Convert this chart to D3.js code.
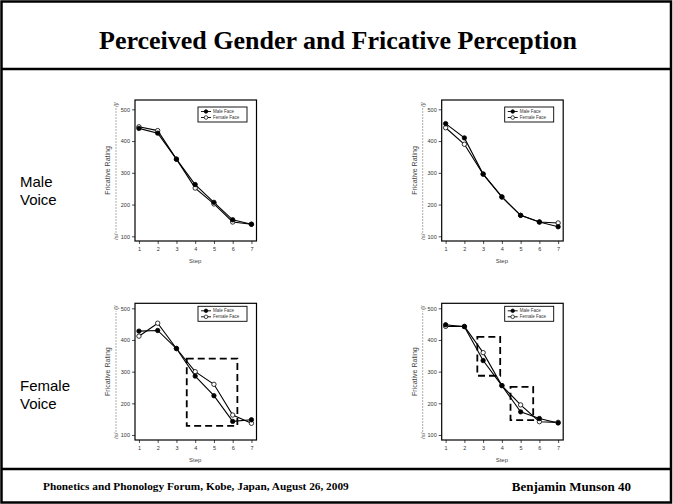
<!DOCTYPE html>
<html>
<head>
<meta charset="utf-8">
<script src="https://cdn.jsdelivr.net/npm/d3@7"></script>
<style>
  body { margin: 0; background: #fff; }
  svg { display: block; }
  .tick text { font-family: Arial, "Liberation Sans", sans-serif; }
</style>
</head>
<body>
<script>
// chart data
const steps = [1, 2, 3, 4, 5, 6, 7];
const ratingTicks = [100, 200, 300, 400, 500];
const seriesNames = ["Male Face", "Female Face"];
const rowLabels = [["Male", "Voice"], ["Female", "Voice"]];

const mvLeftMale    = [440, 425, 343, 263, 207, 152, 138];
const mvLeftFemale  = [445, 433, 343, 252, 202, 145, 138];
const mvRightMale   = [455, 410, 296, 224, 166, 145, 130];
const mvRightFemale = [442, 390, 296, 224, 166, 145, 142];
const fvLeftMale    = [428, 430, 373, 286, 224, 143, 148];
const fvLeftFemale  = [412, 453, 373, 300, 260, 163, 137];
const fvRightMale   = [448, 442, 335, 256, 173, 152, 138];
const fvRightFemale = [443, 443, 360, 256, 195, 142, 140];

// dashed highlight boxes: [step from, step to, rating low, rating high]
const fvLeftBoxes  = [[3.55, 6.25, 129, 341]];
const fvRightBoxes = [[2.69, 3.91, 287, 410], [4.46, 5.67, 147, 252]];

const W = 673, H = 504;
const serif = "'Liberation Serif', 'Times New Roman', serif";
const sans = "Arial, 'Liberation Sans', sans-serif";

const svg = d3.select("body").append("svg")
    .attr("width", W)
    .attr("height", H);

// slide frame
svg.append("rect")
    .attr("x", 1.5).attr("y", 1.5)
    .attr("width", W - 3.5).attr("height", H - 3)
    .attr("fill", "none").attr("stroke", "#000").attr("stroke-width", 2.5);
svg.append("line").attr("x1", 1).attr("x2", W - 1).attr("y1", 69).attr("y2", 69)
    .attr("stroke", "#000").attr("stroke-width", 2.5);
svg.append("line").attr("x1", 1).attr("x2", W - 1).attr("y1", 469).attr("y2", 469)
    .attr("stroke", "#000").attr("stroke-width", 2.5);

svg.append("text")
    .attr("x", 338).attr("y", 49)
    .attr("text-anchor", "middle")
    .style("font-family", serif).style("font-weight", "bold").style("font-size", "26px")
    .text("Perceived Gender and Fricative Perception");

svg.append("text")
    .attr("x", 43).attr("y", 490)
    .style("font-family", serif).style("font-weight", "bold").style("font-size", "11.3px")
    .text("Phonetics and Phonology Forum, Kobe, Japan, August 26, 2009");
svg.append("text")
    .attr("x", 631).attr("y", 491)
    .attr("text-anchor", "end")
    .style("font-family", serif).style("font-weight", "bold").style("font-size", "13px")
    .text("Benjamin Munson 40");

// row labels
rowLabels.forEach(function(lines, i) {
    var base = i == 0 ? 187 : 391;
    lines.forEach(function(t, j) {
        svg.append("text")
            .attr("x", 20).attr("y", base + j * 18)
            .style("font-family", sans).style("font-size", "15px")
            .text(t);
    });
});

const panels = [
    {left: 135, top: 100, bottom: 241, yDom: [85.2, 529.4], male: mvLeftMale, female: mvLeftFemale, boxes: [], legendDy: 7},
    {left: 441.7, top: 100, bottom: 241, yDom: [85.2, 529.4], male: mvRightMale, female: mvRightFemale, boxes: [], legendDy: 7},
    {left: 135, top: 303.3, bottom: 440, yDom: [84.2, 515.8], male: fvLeftMale, female: fvLeftFemale, boxes: fvLeftBoxes, legendDy: 3},
    {left: 441.7, top: 303.3, bottom: 440, yDom: [84.2, 515.8], male: fvRightMale, female: fvRightFemale, boxes: fvRightBoxes, legendDy: 3}
];

panels.forEach(drawPanel);

function drawPanel(p) {
    var right = p.left + 121.5;
    var x = d3.scaleLinear().domain([0.79, 7.27]).range([p.left, right]);
    var y = d3.scaleLinear().domain(p.yDom).range([p.bottom, p.top]);
    var g = svg.append("g");

    var yAxis = d3.axisLeft(y).tickValues(ratingTicks).tickSize(3).tickPadding(2);
    var xAxis = d3.axisBottom(x).tickValues(steps).tickFormat(d3.format("d")).tickSize(3).tickPadding(3);

    var ya = g.append("g").attr("transform", "translate(" + p.left + ",0)").call(yAxis);
    var xa = g.append("g").attr("transform", "translate(0," + p.bottom + ")").call(xAxis);
    [ya, xa].forEach(function(a) {
        a.select(".domain").remove();
        a.selectAll(".tick line").attr("stroke", "#222").attr("stroke-width", 0.8);
        a.selectAll(".tick text").style("font-size", "5.5px").attr("fill", "#333");
    });

    // plot frame
    g.append("rect")
        .attr("x", p.left).attr("y", p.top)
        .attr("width", right - p.left).attr("height", p.bottom - p.top)
        .attr("fill", "none").attr("stroke", "#000").attr("stroke-width", 1.2);

    // axis titles
    var midY = (p.top + p.bottom) / 2;
    g.append("text")
        .attr("transform", "translate(" + (p.left - 25) + "," + midY + ") rotate(-90)")
        .attr("text-anchor", "middle")
        .style("font-family", sans).style("font-size", "7px").attr("fill", "#444")
        .text("Fricative Rating");
    g.append("text")
        .attr("x", (x(1) + x(7)) / 2).attr("y", p.bottom + 22)
        .attr("text-anchor", "middle")
        .style("font-family", sans).style("font-size", "6px").attr("fill", "#444")
        .text("Step");

    // /s/ ---- /ʃ/ scale note
    var ax = p.left - 19;
    g.append("line")
        .attr("x1", ax).attr("x2", ax)
        .attr("y1", p.bottom - 8).attr("y2", p.top + 8)
        .attr("stroke", "#777").attr("stroke-width", 0.6).attr("stroke-dasharray", "2,1");
    g.append("text")
        .attr("transform", "translate(" + (ax + 2) + "," + (p.bottom - 1) + ") rotate(-90)")
        .style("font-family", sans).style("font-size", "6px").attr("fill", "#555")
        .text("/s/");
    g.append("text")
        .attr("transform", "translate(" + (ax + 2) + "," + (p.top + 7) + ") rotate(-90)")
        .style("font-family", sans).style("font-size", "6px").attr("fill", "#555")
        .text("/ʃ/");

    // highlight boxes
    g.selectAll(".hl").data(p.boxes).enter().append("rect")
        .attr("class", "hl")
        .attr("x", function(d) { return x(d[0]); })
        .attr("y", function(d) { return y(d[3]); })
        .attr("width", function(d) { return x(d[1]) - x(d[0]); })
        .attr("height", function(d) { return y(d[2]) - y(d[3]); })
        .attr("fill", "none").attr("stroke", "#000")
        .attr("stroke-width", 1.8).attr("stroke-dasharray", "7,4");

    // series
    var line = d3.line().x(function(d, i) { return x(steps[i]); }).y(function(d) { return y(d); });
    [p.male, p.female].forEach(function(vals) {
        g.append("path").datum(vals)
            .attr("d", line)
            .attr("fill", "none").attr("stroke", "#000").attr("stroke-width", 1.1);
    });
    [p.female, p.male].forEach(function(vals) {
        var filled = vals === p.male;
        g.selectAll(null).data(vals).enter().append("circle")
            .attr("cx", function(d, i) { return x(steps[i]); })
            .attr("cy", function(d) { return y(d); })
            .attr("r", 2.2)
            .attr("fill", filled ? "#000" : "#fff")
            .attr("stroke", "#000").attr("stroke-width", 0.8);
    });

    // legend
    var lx = p.left + 63, ly = p.top + p.legendDy;
    var lg = g.append("g").attr("transform", "translate(" + lx + "," + ly + ")");
    lg.append("rect")
        .attr("width", 49).attr("height", 15)
        .attr("fill", "#fff").attr("stroke", "#000").attr("stroke-width", 0.9);
    seriesNames.forEach(function(name, k) {
        var ry = 4.5 + k * 6;
        lg.append("line").attr("x1", 3).attr("x2", 13).attr("y1", ry).attr("y2", ry)
            .attr("stroke", "#000").attr("stroke-width", 0.9);
        lg.append("circle").attr("cx", 8).attr("cy", ry).attr("r", 1.8)
            .attr("fill", k == 0 ? "#000" : "#fff").attr("stroke", "#000").attr("stroke-width", 0.7);
        lg.append("text").attr("x", 15).attr("y", ry + 1.6)
            .style("font-family", sans).style("font-size", "4.5px").attr("fill", "#333")
            .text(name);
    });
}
</script>
</body>
</html>
